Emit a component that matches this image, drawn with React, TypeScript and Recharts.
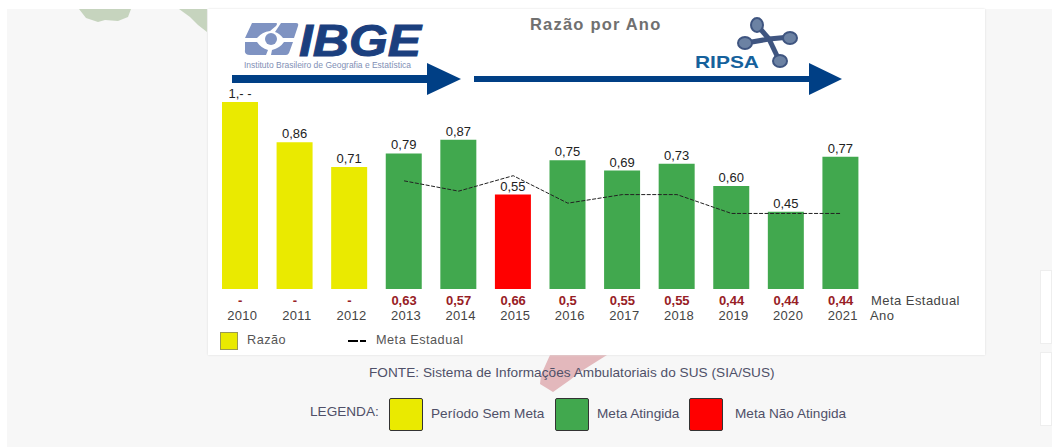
import React from 'react';
import {
  ComposedChart, Bar, Line, XAxis, YAxis, Cell, LabelList, Legend
} from 'recharts';

const years = ['2010', '2011', '2012', '2013', '2014', '2015', '2016', '2017', '2018', '2019', '2020', '2021'];
const razao = [1.09, 0.855, 0.71, 0.79, 0.87, 0.55, 0.75, 0.69, 0.73, 0.6, 0.45, 0.77];
const razaoLabels = ['1,- -', '0,86', '0,71', '0,79', '0,87', '0,55', '0,75', '0,69', '0,73', '0,60', '0,45', '0,77'];
const meta = [null, null, null, 0.63, 0.57, 0.66, 0.5, 0.55, 0.55, 0.44, 0.44, 0.44];
const metaLabels = ['-', '-', '-', '0,63', '0,57', '0,66', '0,5', '0,55', '0,55', '0,44', '0,44', '0,44'];

const YELLOW = '#EAEA00';
const GREEN = '#41A84E';
const RED = '#FF0000';
const barColors = [YELLOW, YELLOW, YELLOW, GREEN, GREEN, RED, GREEN, GREEN, GREEN, GREEN, GREEN, GREEN];

const data = years.map((year, i) => ({
  year,
  razao: razao[i],
  label: razaoLabels[i],
  meta: meta[i],
}));

const SANS = '"Liberation Sans", Arial, sans-serif';
const BLUE = '#003F85';

const YearTick = (props: any) => {
  const { x, y, payload, index } = props;
  return (
    <g>
      <text x={x} y={y + 8} textAnchor="middle" fontFamily={SANS} fontSize={13} fontWeight={700} fill="#972025">
        {metaLabels[index]}
      </text>
      <text x={x + 2} y={y + 23} textAnchor="middle" fontFamily={SANS} fontSize={13} letterSpacing={0.3} fill="#444">
        {payload.value}
      </text>
    </g>
  );
};

const ChartLegend = () => (
  <div style={{ position: 'relative', width: 300, height: 20, fontFamily: SANS, fontSize: 12.7, color: '#555', letterSpacing: 0.5 }}>
    <div style={{ position: 'absolute', left: 0, top: 1, width: 16, height: 16, background: YELLOW, border: '1px solid #9a9a50' }} />
    <div style={{ position: 'absolute', left: 27, top: 2 }}>Razão</div>
    <div style={{ position: 'absolute', left: 128, top: 9, width: 10, height: 2, background: '#000' }} />
    <div style={{ position: 'absolute', left: 140, top: 9, width: 6, height: 2, background: '#000' }} />
    <div style={{ position: 'absolute', left: 156, top: 2 }}>Meta Estadual</div>
  </div>
);

const Box = ({ style }: { style: React.CSSProperties }) => (
  <div style={{ position: 'absolute', background: '#fff', ...style }} />
);

const Caption = ({ x, y, color = '#4F5068', size = 13.6, children }: any) => (
  <div style={{ position: 'absolute', left: x, top: y, fontFamily: SANS, fontSize: size, color, whiteSpace: 'nowrap', lineHeight: '14px' }}>
    {children}
  </div>
);

const Swatch = ({ x, color }: { x: number; color: string }) => (
  <div style={{ position: 'absolute', left: x, top: 398, width: 32, height: 31, background: color, border: '1px solid #333', borderRadius: 2 }} />
);

// logos and arrows behind the chart
const Decor = () => (
  <svg width={1052} height={447} style={{ position: 'absolute', left: 0, top: 0 }}>
    <polygon points="232,75 427,75 427,63 461,79 427,95 427,83 232,83" fill={BLUE} />
    <polygon points="474,76 809,76 809,63 842,79 809,95 809,82 474,82" fill={BLUE} />
    {/* IBGE */}
    <g fill="#7F93C2">
      <path d="M252 23 L276 23 Q278 23 276 26 L270 31 Q262 32 257 38 L245 38 Z" />
      <path d="M281 23 L296 23 Q299 23 298 26 L294 38 L283 38 Q279 33 275 32 Z" />
      <path d="M245 42 L257 42 Q261 48 268 50 L266 55 L250 55 Q244 55 245 50 Z" />
      <path d="M284 42 L293 42 L289 53 Q288 55 286 55 L271 55 L272 50 Q280 48 284 42 Z" />
      <circle cx="271" cy="39" r="6" />
    </g>
    <text x="299" y="56" fontFamily={SANS} fontSize={45} fontWeight={700} fontStyle="italic" fill="#1B3F7E" stroke="#1B3F7E" strokeWidth={1} textLength={122} lengthAdjust="spacingAndGlyphs">IBGE</text>
    <text x="244" y="68" fontFamily={SANS} fontSize={9} fill="#7F8FB5" textLength={167} lengthAdjust="spacingAndGlyphs">Instituto Brasileiro de Geografia e Estatística</text>
    {/* RIPSA */}
    <text x="695" y="68" fontFamily={SANS} fontSize={17} fontWeight={700} fill="#15619C" textLength={64} lengthAdjust="spacingAndGlyphs">RIPSA</text>
    <g stroke="#3F5580" strokeWidth={5}>
      <line x1="757" y1="25" x2="769" y2="39" />
      <line x1="746" y1="43" x2="769" y2="39" />
      <line x1="790" y1="37" x2="769" y2="39" />
      <line x1="779" y1="60" x2="769" y2="39" />
    </g>
    <g fill="#6C82A3" stroke="#3F5580" strokeWidth={2}>
      <ellipse cx="757" cy="25" rx="6" ry="7" />
      <ellipse cx="745" cy="43" rx="7" ry="6" />
      <ellipse cx="790" cy="38" rx="7" ry="6" />
      <ellipse cx="780" cy="61" rx="7" ry="6" />
    </g>
  </svg>
);

export default function App() {
  return (
    <div style={{ position: 'absolute', left: 0, top: 0, width: 1052, height: 447, background: '#fff', overflow: 'hidden' }}>
      {/* page backdrop */}
      <div style={{ position: 'absolute', left: 7, top: 9, width: 1045, height: 438, background: '#F7F7F7' }} />
      <svg width={1052} height={447} style={{ position: 'absolute', left: 0, top: 0 }}>
        <polygon points="79,9 131,9 128,17 118,21 105,20 98,22 86,18" fill="#C6D4BE" />
        <polygon points="179,9 207,9 207,32 198,25 190,17" fill="#C6D4BE" />
        <polygon points="550,355 607,355 580,372 570,380 553,392 540,384 541,375" fill="#E3B8BC" />
      </svg>
      <Box style={{ left: 1040, top: 270, width: 12, height: 74, border: '1px solid #eee', boxSizing: 'border-box' }} />
      <Box style={{ left: 1040, top: 352, width: 12, height: 74, border: '1px solid #eee', boxSizing: 'border-box' }} />
      <Box style={{ left: 208, top: 9, width: 777, height: 346, boxShadow: '0 0 2px #ddd' }} />

      <Decor />
      <Caption x={530} y={17} color="#707070" size={16.5}>
        <b style={{ letterSpacing: 1.2 }}>Razão por Ano</b>
      </Caption>

      <div style={{ position: 'absolute', left: 0, top: 0 }}>
        <ComposedChart
          width={1052}
          height={447}
          data={data}
          barSize={36}
          margin={{ top: 83, right: 184, bottom: 98, left: 213 }}
        >
          <XAxis dataKey="year" axisLine={false} tickLine={false} interval={0} height={40} tick={<YearTick />} />
          <YAxis hide domain={[0, 1.2]} />
          <Bar dataKey="razao" isAnimationActive={false}>
            {data.map((d, i) => <Cell key={d.year} fill={barColors[i]} />)}
            <LabelList dataKey="label" position="top" offset={4} fontFamily={SANS} fontSize={13} fill="#222" />
          </Bar>
          <Line
            dataKey="meta"
            stroke="#222"
            strokeWidth={1}
            strokeDasharray="4 1.5"
            dot={false}
            isAnimationActive={false}
          />
          <Legend
            content={<ChartLegend />}
            wrapperStyle={{ position: 'absolute', left: 220, top: 331, width: 300, bottom: 'auto' }}
          />
        </ComposedChart>
      </div>

      <Caption x={871} y={294} color="#444" size={13}><span style={{ letterSpacing: 0.45 }}>Meta Estadual</span></Caption>
      <Caption x={870} y={309} color="#444" size={13}><span style={{ letterSpacing: 0.45 }}>Ano</span></Caption>

      <Caption x={369} y={366}><span style={{ letterSpacing: 0.05 }}>FONTE: Sistema de Informações Ambulatoriais do SUS (SIA/SUS)</span></Caption>
      <Caption x={310} y={405}>LEGENDA:</Caption>
      <Swatch x={389} color={YELLOW} />
      <Caption x={431} y={407}>Período Sem Meta</Caption>
      <Swatch x={555} color={GREEN} />
      <Caption x={597} y={407}>Meta Atingida</Caption>
      <Swatch x={689} color={RED} />
      <Caption x={735} y={407}>Meta Não Atingida</Caption>
    </div>
  );
}
